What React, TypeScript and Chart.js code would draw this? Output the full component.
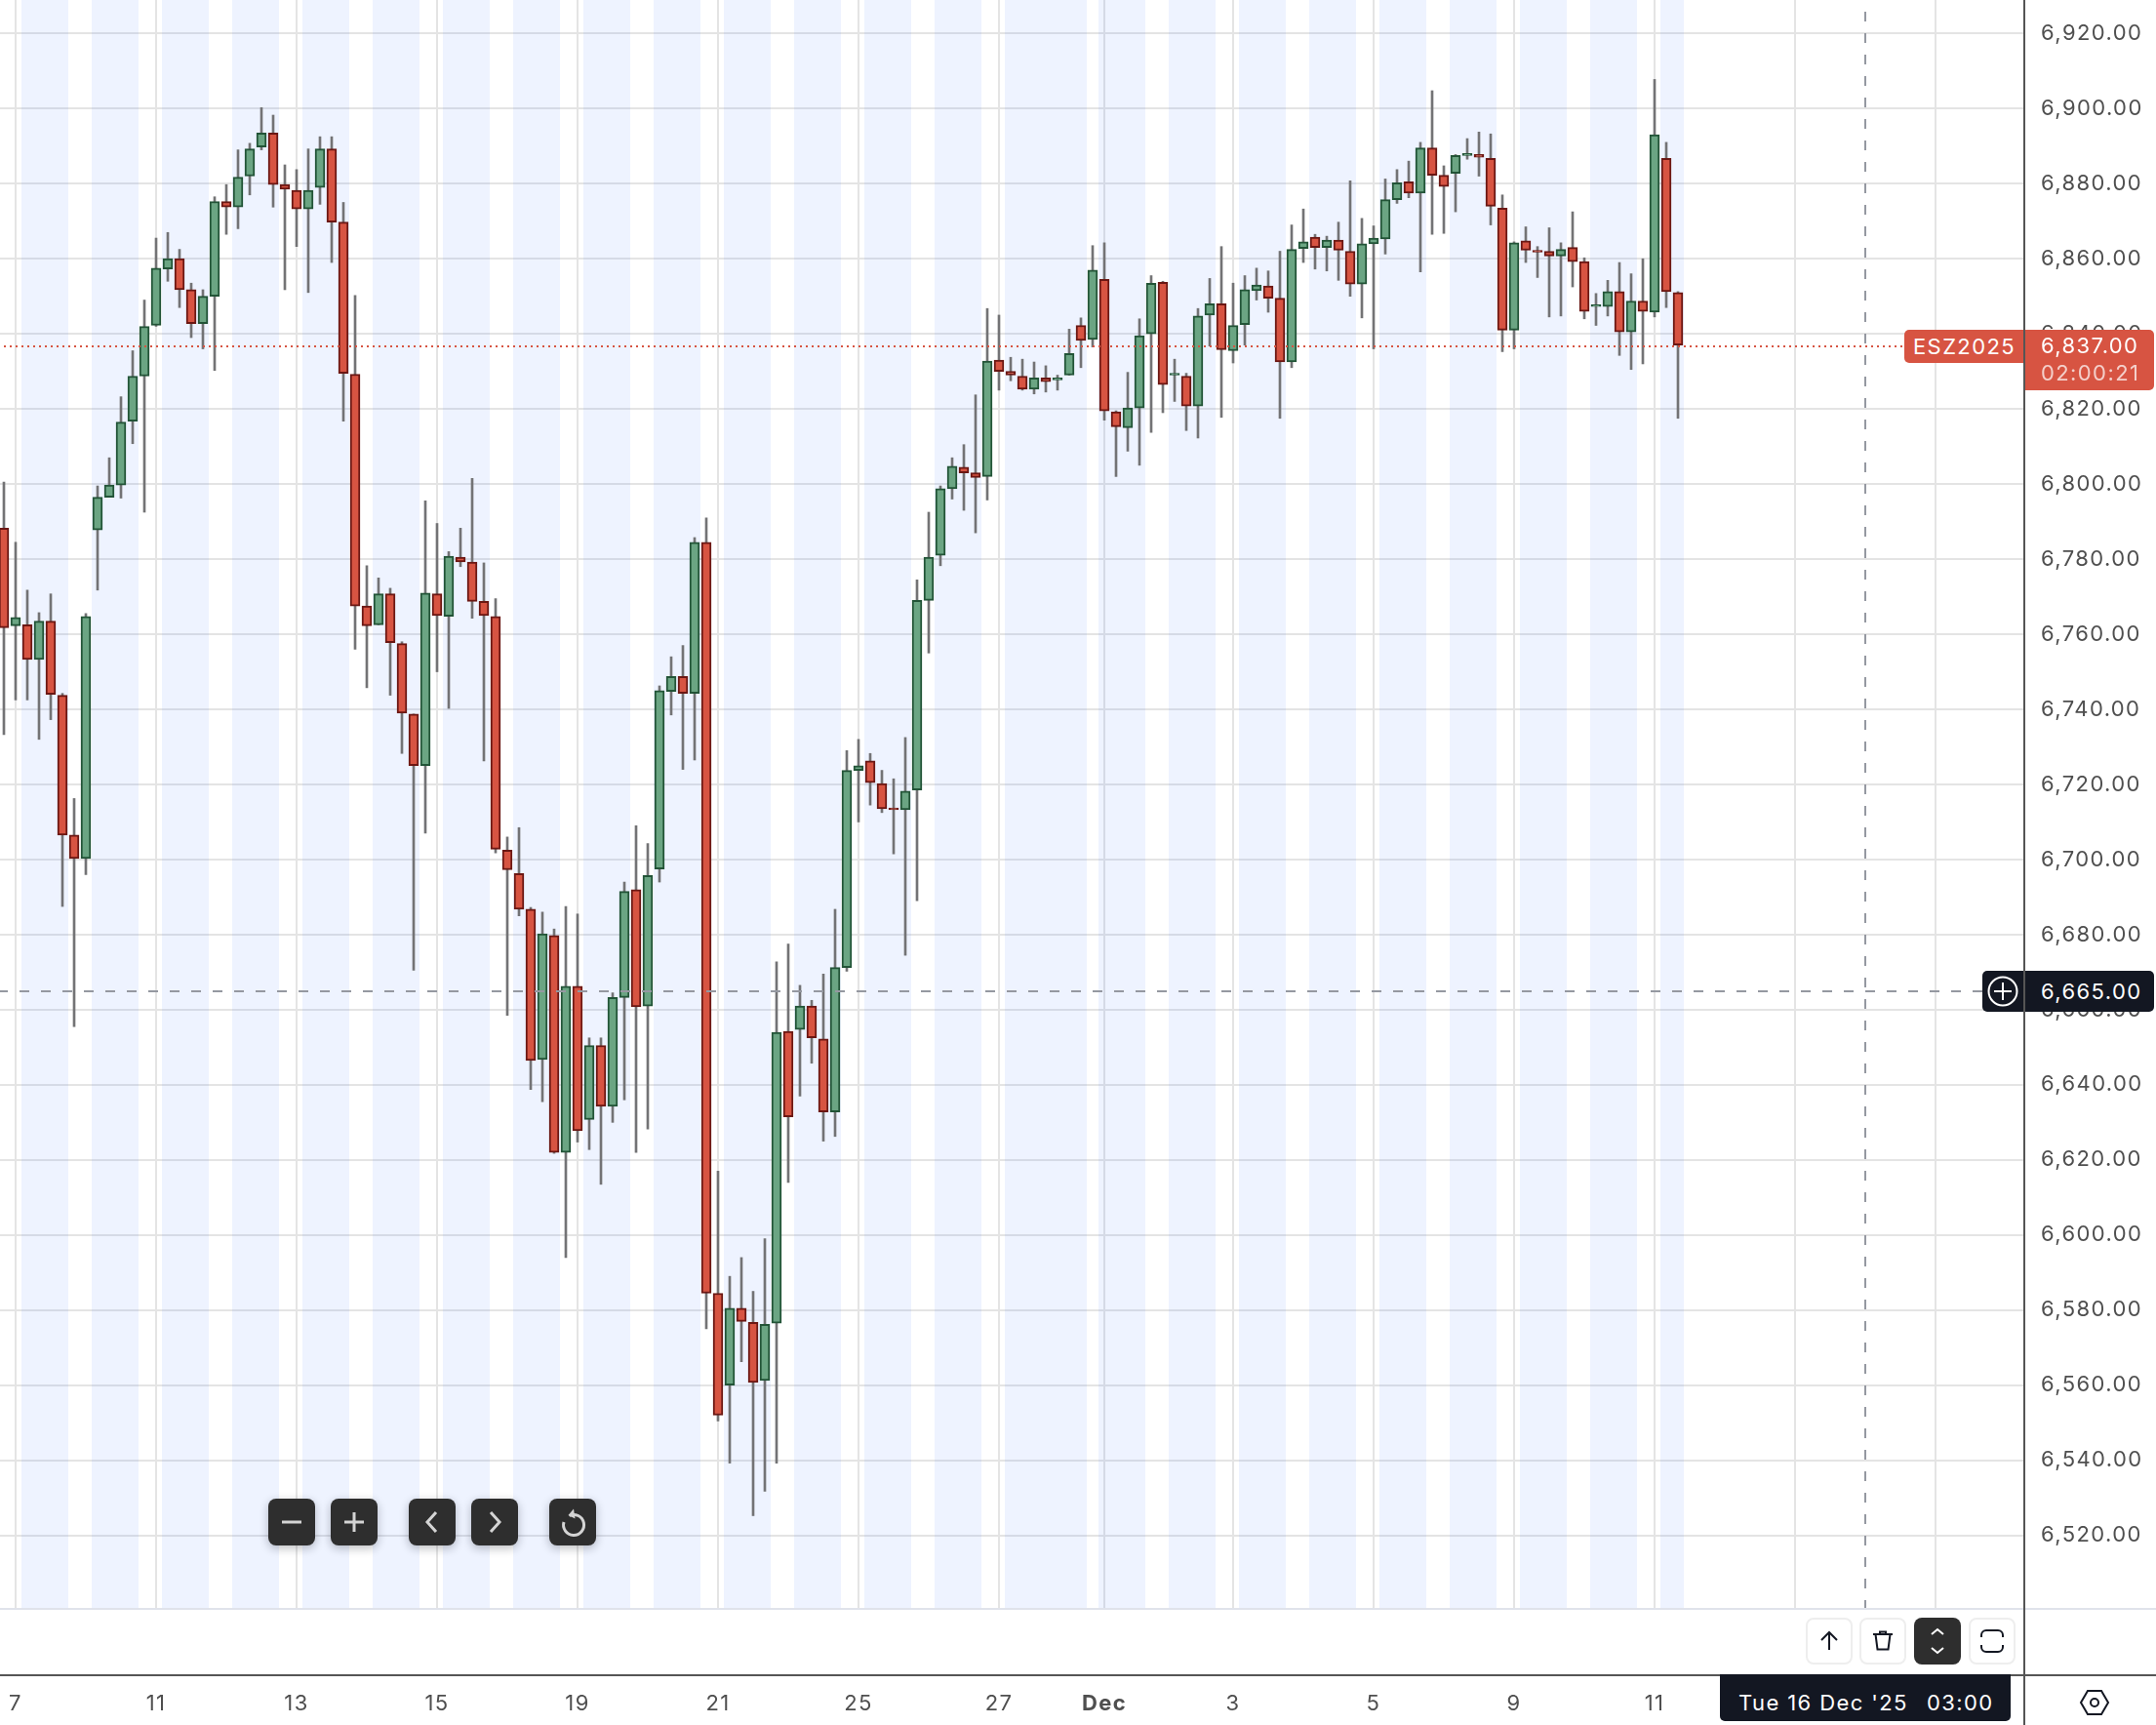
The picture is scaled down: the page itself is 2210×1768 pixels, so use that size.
import React, { useEffect, useRef } from "react";
import { Chart, registerables } from "chart.js";

Chart.register(...registerables);

// 4-hour candles, left to right
const opens = [6788.25,6762.25,6762.5,6753.25,6763.5,6743.75,6706.5,6700.25,6787.75,6796.5,6799.75,6816.75,6828.75,6842.25,6857.25,6860,6851.75,6842.75,6850,6875.25,6873.75,6882,6889.75,6893.5,6879.75,6878.25,6873.25,6879,6889.25,6869.75,6829.25,6767.5,6762.5,6770.75,6757.5,6738.75,6725,6770.75,6764.75,6780.5,6779.25,6768.75,6764.75,6702.5,6696.25,6686.75,6646.75,6679.75,6622,6666.25,6630.75,6650.5,6634.25,6663.25,6692,6661,6697.5,6744.75,6748.75,6744.25,6784.5,6584.5,6560,6580.5,6576.75,6561.25,6576.5,6654.25,6654.75,6661,6652.25,6632.75,6671.25,6723.75,6726.25,6720.25,6713.75,6713.25,6718.5,6769,6781,6798.75,6804.5,6803,6802,6833,6830,6828.75,6825.25,6828.25,6827.75,6829,6842.25,6838.5,6854.5,6819.25,6815,6820.25,6840,6853.75,6829,6828.75,6820.75,6845,6848,6835.5,6842.5,6851.5,6852.75,6849.5,6832.5,6862.75,6865.75,6863,6865,6862,6853.25,6864,6865.25,6875.75,6880.5,6877.5,6889.5,6882.25,6882.75,6887.5,6887.75,6886.75,6873.5,6841,6864.75,6862.25,6862,6860.75,6863,6859.25,6847.25,6847.25,6851.25,6840.5,6848.75,6845.75,6886.75,6851];
const highs = [6800.5,6784.5,6771.75,6765.75,6770.75,6744.25,6716.25,6765.5,6799.5,6807,6823.25,6835.5,6849,6865.5,6867,6862.5,6853.5,6851.75,6876.5,6879.75,6889,6890.75,6900.25,6898.25,6885,6883.75,6889.25,6892.5,6892.5,6875,6850.25,6778.25,6775,6772.25,6758,6738.75,6795.5,6789.5,6782,6788.25,6801.5,6779,6769.5,6706,6708.5,6687.25,6686,6681.5,6687.5,6685.5,6652.5,6652.5,6664.5,6694,6709,6704.25,6746.25,6754,6757,6785.75,6791,6617,6589,6594,6585,6599,6672.75,6677.5,6666.5,6662.5,6669.5,6686.75,6729,6732,6728.25,6723.75,6721.5,6732.5,6774.5,6792.5,6799.5,6807,6810.5,6823.75,6846.75,6845,6833.75,6833.25,6832.5,6831.5,6829,6841.25,6844.25,6863.5,6864.25,6819.5,6829.75,6844,6855.5,6854,6833.25,6829.5,6846.75,6854.75,6863.25,6853.5,6855.5,6857.5,6856.75,6862,6869,6873.25,6866.5,6866,6869.75,6880.75,6870.75,6868.75,6881.25,6883.75,6886,6891,6904.75,6884.75,6887.75,6892,6893.75,6893.25,6877,6864.5,6868.5,6863.25,6868.25,6864.25,6872.5,6860.25,6850.75,6854.25,6859,6856,6860,6907.75,6891,6851.25];
const lows = [6733.25,6742.5,6742.5,6732,6737.25,6687.5,6655.5,6696,6771.75,6796.5,6796.25,6810.75,6792.5,6842,6854,6847,6839,6836,6830.25,6866.5,6868,6877,6889,6873.75,6851.75,6863.25,6851,6874.5,6859,6816.75,6756,6745.75,6762.5,6743.75,6728.25,6670.5,6707,6750,6740.25,6778,6764.25,6726.25,6701.75,6658.5,6685,6638.75,6635.5,6621.75,6594,6624.75,6622.75,6613.5,6630,6636,6622,6628.25,6694,6738.5,6724,6726.5,6575,6550.5,6539.25,6566.25,6525.25,6531.75,6539.25,6614,6637,6645.75,6625,6626.25,6670.25,6710,6714.5,6712.5,6701.5,6674.5,6689,6755,6778.25,6796,6793,6787,6795.75,6825,6827.5,6825,6824,6824.5,6825,6829,6831,6836.5,6817,6802,6808.75,6805,6813.75,6819,6822,6814.25,6812.25,6836.75,6817.75,6832.25,6837,6849,6845.75,6817.5,6831,6859,6857.25,6856.75,6854.25,6850,6844.25,6836,6861.25,6874.75,6876.25,6856.5,6866.5,6866.75,6872.5,6886.5,6882,6869,6835.25,6836,6859,6855,6844.5,6844.75,6852.5,6844,6842.25,6844.75,6834.25,6830.5,6832,6844.5,6847,6817.5];
const closes = [6761.75,6764.5,6753.25,6763.5,6744,6706.5,6700.25,6764.75,6796.5,6799.75,6816.5,6828.75,6842,6857.5,6860,6851.75,6842.75,6850,6875.25,6873.75,6881.75,6889.25,6893.5,6879.75,6878.5,6873.25,6878.25,6889.25,6869.75,6829.5,6767.5,6762.25,6770.75,6757.75,6739,6725,6771,6765,6780.75,6779.25,6768.75,6765,6702.75,6697.25,6686.75,6646.5,6680.25,6622,6666.25,6627.75,6650.5,6634.25,6663.25,6691.5,6660.75,6695.75,6745,6748.75,6744.25,6784.5,6584.5,6552,6580.5,6577,6560.75,6576.25,6654,6631.5,6661,6652.5,6632.75,6671.25,6723.75,6725,6720.5,6713.5,6713.25,6718.25,6769,6780.5,6798.75,6804.75,6803,6801.75,6832.75,6830,6829,6825.25,6828.25,6827.25,6828.25,6834.75,6838.25,6857,6819.5,6815.25,6820.25,6839.5,6853.5,6826.5,6829.5,6820.75,6844.75,6848,6835.75,6842.25,6851.75,6853,6849.5,6832.5,6862.5,6864.5,6863,6865,6862.25,6853.25,6864,6865.5,6875.75,6880.25,6877.5,6889.5,6882.25,6879.25,6887.5,6888,6887,6874,6841,6864.25,6862.25,6861.75,6860.75,6862.5,6859.25,6846,6847.75,6851.25,6840.5,6848.75,6846,6893,6851.25,6837];

// Session shading, in candle positions
const bandStarts = [1.5,7.5,13.5,19.5,25.5,31.5,37.5,43.5,49.5,55.5,61.5,67.5,73.5,79.5,85.5,93.5,99.5,105.5,111.5,117.5,123.5,129.5,135.5,141.5];
const bandEnds = [5.5,11.5,17.5,23.5,29.5,35.5,41.5,47.5,53.5,59.5,65.5,71.5,77.5,83.5,92.5,97.5,103.5,109.5,115.5,121.5,127.5,133.5,139.5,143.5];

// Axis ticks
const timeTickPositions = [1,13,25,37,49,61,73,85,94,105,117,129,141,153,165];
const timeTickLabels = ["7","11","13","15","19","21","25","27","Dec","3","5","9","11","",""];
const priceTicks = [6520,6540,6560,6580,6600,6620,6640,6660,6680,6700,6720,6740,6760,6780,6800,6820,6840,6860,6880,6900,6920];

const lastPrice = 6837;
const crosshairPrice = 6665;
const crosshairPosition = 159;
const lastPriceText = "6,837.00";
const countdownText = "02:00:21";
const crosshairPriceText = "6,665.00";
const symbolText = "ESZ2025";
const crosshairTimeText = "Tue 16 Dec '25";
const crosshairClockText = "03:00";

const FONT = "Inter, 'Noto Sans', sans-serif";
const RED = "#d75442";
const RED_EDGE = "#6b1713";
const GREEN = "#6ba583";
const GREEN_EDGE = "#225437";
const WICK = "#737375";
const GRID = "#e4e4e4";
const INK = "#4f4f4f";
const SPACING = "1.4px";

const overlays = {
  id: "overlays",
  beforeDraw(chart: any) {
    chart.ctx.letterSpacing = SPACING;
  },
  beforeDatasetsDraw(chart: any) {
    const { ctx, chartArea, scales } = chart;
    ctx.save();
    ctx.fillStyle = "rgba(41,98,255,0.08)";
    bandStarts.forEach((s, i) => {
      const a = scales.x.getPixelForValue(s);
      const b = scales.x.getPixelForValue(bandEnds[i]);
      ctx.fillRect(a, chartArea.top, b - a, chartArea.bottom - chartArea.top);
    });
    ctx.restore();
  },
  afterDatasetsDraw(chart: any) {
    const { ctx, chartArea, scales } = chart;
    const w = chart.width;
    const h = chart.height;
    ctx.save();
    // last price line
    const ly = Math.round(scales.y.getPixelForValue(lastPrice)) + 1;
    ctx.strokeStyle = RED;
    ctx.lineWidth = 2;
    ctx.setLineDash([2, 4]);
    ctx.beginPath();
    ctx.moveTo(4, ly);
    ctx.lineTo(chartArea.right, ly);
    ctx.stroke();
    // crosshair
    const cy = Math.round(scales.y.getPixelForValue(crosshairPrice));
    const cx = Math.round(scales.x.getPixelForValue(crosshairPosition));
    ctx.strokeStyle = "#9598a1";
    ctx.setLineDash([10, 12]);
    ctx.beginPath();
    ctx.moveTo(-2, cy);
    ctx.lineTo(chartArea.right, cy);
    ctx.moveTo(cx, -10);
    ctx.lineTo(cx, chartArea.bottom + 14);
    ctx.stroke();
    ctx.setLineDash([]);
    // frame lines
    ctx.fillStyle = "#e0e3eb";
    ctx.fillRect(0, chartArea.bottom, w, 2);
    ctx.fillStyle = "#555555";
    ctx.fillRect(0, chartArea.bottom + 68, w, 2);
    ctx.fillRect(chartArea.right - 2, 0, 2, h);
    ctx.restore();
  },
};

const pos = (left: number, top: number, width: number, height: number): React.CSSProperties => ({
  position: "absolute",
  left,
  top,
  width,
  height,
  boxSizing: "border-box",
});

const textStyle = (color: string): React.CSSProperties => ({
  position: "absolute",
  color,
  fontFamily: FONT,
  fontSize: 22,
  letterSpacing: SPACING,
  lineHeight: "26px",
  whiteSpace: "pre",
});

function NavButton({ left, children }: { left: number; children: React.ReactNode }) {
  return (
    <div
      style={{
        ...pos(left, 1536, 48, 48),
        background: "#2e2e2e",
        borderRadius: 8,
        boxShadow: "0 3px 10px rgba(19,23,34,0.28)",
      }}
    >
      <svg width="48" height="48" viewBox="0 0 48 48" fill="none" stroke="#d4d4d4" strokeWidth="3">
        {children}
      </svg>
    </div>
  );
}

function ToolButton({ left, dark, children }: { left: number; dark?: boolean; children: React.ReactNode }) {
  return (
    <div
      style={{
        ...pos(left, 1658, 48, 48),
        background: dark ? "#2e2e2e" : "#ffffff",
        border: dark ? "none" : "2px solid #eeeeee",
        borderRadius: 8,
      }}
    >
      <svg
        width={dark ? 48 : 44}
        height={dark ? 48 : 44}
        viewBox={dark ? "0 0 48 48" : "2 2 44 44"}
        fill="none"
        stroke={dark ? "#ffffff" : "#131722"}
        strokeWidth="2"
      >
        {children}
      </svg>
    </div>
  );
}

export default function App() {
  const ref = useRef<HTMLCanvasElement | null>(null);

  useEffect(() => {
    const index = opens.map((_, i) => i);
    const chart = new Chart(ref.current as HTMLCanvasElement, {
      type: "bar",
      plugins: [overlays],
      data: {
        datasets: [
          {
            label: "Wicks",
            data: index.map((i) => ({ x: i, y: [lows[i], highs[i]] })) as any,
            backgroundColor: WICK,
            borderWidth: 0,
            barThickness: 2,
            grouped: false,
            order: 2,
          },
          {
            label: "Bodies",
            data: index.map((i) => ({ x: i, y: [opens[i], closes[i]] })) as any,
            backgroundColor: index.map((i) => (closes[i] >= opens[i] ? GREEN : RED)),
            borderColor: index.map((i) => (closes[i] >= opens[i] ? GREEN_EDGE : RED_EDGE)),
            borderWidth: 2,
            borderSkipped: false,
            barThickness: 10,
            grouped: false,
            order: 1,
          },
        ],
      },
      options: {
        responsive: false,
        animation: false,
        layout: { padding: 0 },
        plugins: { legend: { display: false }, tooltip: { enabled: false } },
        events: [],
        scales: {
          x: {
            type: "linear",
            offset: false,
            min: -1 / 3,
            max: 172 + 2 / 3,
            afterBuildTicks(scale: any) {
              scale.ticks = timeTickPositions.map((value) => ({ value }));
            },
            afterFit(scale: any) {
              scale.height = 120;
              scale.paddingLeft = scale.paddingRight = scale.paddingTop = scale.paddingBottom = 0;
            },
            grid: { color: GRID, lineWidth: 2, drawTicks: false, offset: false },
            border: { display: false },
            ticks: {
              autoSkip: false,
              maxRotation: 0,
              padding: 85,
              color: INK,
              font: (c: any) => ({
                family: FONT,
                size: 22,
                weight: c.tick && timeTickLabels[timeTickPositions.indexOf(c.tick.value)] === "Dec" ? "bold" : "normal",
              }),
              callback: (v: any) => timeTickLabels[timeTickPositions.indexOf(v)],
            },
          },
          y: {
            type: "linear",
            position: "right",
            min: 6500.69,
            max: 6928.91,
            afterBuildTicks(scale: any) {
              scale.ticks = priceTicks.map((value) => ({ value }));
            },
            afterFit(scale: any) {
              scale.width = 134;
              scale.paddingLeft = scale.paddingRight = scale.paddingTop = scale.paddingBottom = 0;
            },
            grid: { color: GRID, lineWidth: 2, drawTicks: false },
            border: { display: false },
            ticks: {
              padding: 16,
              color: INK,
              font: { family: FONT, size: 22 },
              callback: (v: any) =>
                Number(v).toLocaleString("en-US", { minimumFractionDigits: 2, maximumFractionDigits: 2 }),
            },
          },
        },
      },
    });
    return () => chart.destroy();
  }, []);

  return (
    <div style={{ position: "absolute", left: 0, top: 0, width: 2210, height: 1768, overflow: "hidden", background: "#fff" }}>
      <canvas ref={ref} width={2210} height={1768} style={{ display: "block", width: 2210, height: 1768 }} />

      {/* last price tag */}
      <div style={{ ...pos(1952, 338, 124, 34), background: RED, borderRadius: "5px 0 0 5px" }}>
        <span style={{ ...textStyle("#ffffff"), left: 9, top: 4 }}>{symbolText}</span>
      </div>
      <div style={{ ...pos(2076, 338, 132, 62), background: RED, borderRadius: "0 5px 5px 0" }}>
        <span style={{ ...textStyle("#ffffff"), left: 16, top: 3 }}>{lastPriceText}</span>
        <span style={{ ...textStyle("rgba(255,255,255,0.72)"), left: 16, top: 31 }}>{countdownText}</span>
      </div>

      {/* crosshair price tag */}
      <div style={{ ...pos(2032, 995, 176, 42), background: "#131722", borderRadius: 5 }}>
        <svg width="42" height="42" viewBox="0 0 42 42" fill="none" stroke="#ffffff" strokeWidth="2" style={{ position: "absolute", left: 0, top: 0 }}>
          <circle cx="21" cy="21" r="14.5" />
          <path d="M21 12v18M12 21h18" />
        </svg>
        <span style={{ ...textStyle("#ffffff"), left: 60, top: 8 }}>{crosshairPriceText}</span>
      </div>

      {/* crosshair time tag */}
      <div style={{ ...pos(1763, 1716, 298, 48), background: "#131722", borderRadius: "0 0 5px 5px" }}>
        <span style={{ ...textStyle("#ffffff"), left: 19, top: 16 }}>{crosshairTimeText}</span>
        <span style={{ ...textStyle("#ffffff"), left: 212, top: 16 }}>{crosshairClockText}</span>
      </div>

      {/* price axis line stays above the tags */}
      <div style={{ ...pos(2074, 0, 2, 1768), background: "#555555" }} />

      {/* navigation buttons */}
      <NavButton left={275}>
        <path d="M14 24h20" />
      </NavButton>
      <NavButton left={339}>
        <path d="M14 24h20M24 14v20" />
      </NavButton>
      <NavButton left={419}>
        <path d="M28 14l-9 10 9 10" />
      </NavButton>
      <NavButton left={483}>
        <path d="M20 14l9 10-9 10" />
      </NavButton>
      <NavButton left={563}>
        <path d="M20.5 17.5a10.5 10.5 0 1 1-5.5 6.5" />
        <path d="M25 10.5l-5.5 6.5 7 3.5" fill="#d4d4d4" stroke="none" />
      </NavButton>

      {/* price-scale tools */}
      <ToolButton left={1851}>
        <path d="M24 33V15M16 23l8-8 8 8" />
      </ToolButton>
      <ToolButton left={1906}>
        <path d="M14 17h20M21 17v-2.5h6V17M16.5 17l2 15.5h11l2-15.5" />
      </ToolButton>
      <ToolButton left={1962} dark>
        <path d="M18 17l6-5 6 5M18 31l6 5 6-5" />
      </ToolButton>
      <ToolButton left={2018}>
        <path d="M13 20v-2a5 5 0 0 1 5-5h12a5 5 0 0 1 5 5v2M13 28v2a5 5 0 0 0 5 5h12a5 5 0 0 0 5-5v-2" />
      </ToolButton>

      {/* settings */}
      <svg width="32" height="28" viewBox="0 0 32 28" fill="none" stroke="#131722" strokeWidth="2" style={{ position: "absolute", left: 2131, top: 1731 }}>
        <path d="M9 2h14l7 12-7 12H9L2 14z" />
        <circle cx="16" cy="14" r="4" />
      </svg>
    </div>
  );
}
